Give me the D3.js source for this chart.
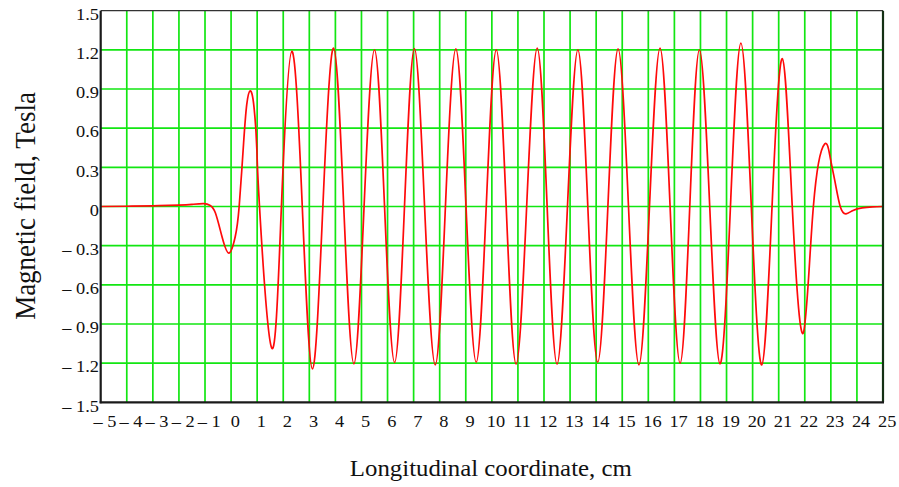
<!DOCTYPE html>
<html>
<head>
<meta charset="utf-8">
<script src="https://cdn.jsdelivr.net/npm/d3@7"></script>
<style>
  body { margin: 0; background: #ffffff; }
  text { font-family: "Liberation Serif", "Times New Roman", serif; fill: #111; }
</style>
</head>
<body>
<svg id="chart" width="899" height="487"></svg>
<script>
// Axis ticks
const xTicks = d3.range(-5, 26);
const yTicks = [-1.5, -1.2, -0.9, -0.6, -0.3, 0, 0.3, 0.6, 0.9, 1.2, 1.5];

// Undulator field profile: longitudinal position (cm) and field (T)
const positionCm = [
  -5, -4, -3, -2, -1.5, -1.05, -0.8, -0.6, -0.35, -0.08, 0.16, 0.31, 0.48, 0.60, 0.73,
  0.88, 0.99, 1.09, 1.56, 1.93, 2.33, 2.73, 3.12, 3.52, 3.93, 4.32, 4.71, 5.10, 5.50, 5.885, 6.27,
  6.65, 7.03, 7.42, 7.83, 8.22, 8.62, 9.01, 9.40, 9.785, 10.17, 10.55, 10.93, 11.335,
  11.74, 12.12, 12.50, 12.90, 13.30, 13.68, 14.06, 14.45, 14.84, 15.24, 15.64, 16.045,
  16.45, 16.835, 17.22, 17.59, 17.96, 18.355, 18.75, 19.15, 19.55, 19.95, 20.35, 20.745,
  21.14, 21.52, 21.94, 22.33, 22.76, 22.97, 23.15, 23.36, 23.58, 23.85, 24.2, 24.6, 25
];
const fieldT = [
  0, 0.002, 0.005, 0.01, 0.016, 0.022, 0.008, -0.05, -0.23, -0.357, -0.23, 0, 0.486, 0.78, 0.886,
  0.76, 0.43, 0, -1.085, 0, 1.188, 0, -1.244, 0, 1.214, 0, -1.205, 0, 1.20, 0, -1.195,
  0, 1.21, 0, -1.213, 0, 1.208, 0, -1.193, 0, 1.20, 0, -1.208, 0,
  1.214, 0, -1.208, 0, 1.20, 0, -1.193, 0, 1.208, 0, -1.213, 0,
  1.214, 0, -1.20, 0, 1.20, 0, -1.205, 0, 1.252, 0, -1.213, 0,
  1.132, 0, -0.97, 0, 0.478, 0.38, 0.2, 0, -0.056, -0.03, -0.01, -0.003, 0
];

const svg = d3.select("#chart");
const plotLeft = 100.7, plotRight = 883, plotTop = 10.7, plotBottom = 402.3;
const x = d3.scaleLinear().domain([-5, 25]).range([plotLeft, plotRight]);
const y = d3.scaleLinear().domain([-1.5, 1.5]).range([plotBottom, plotTop]);
const stretch = 1.08;
const serif = '"Liberation Serif", "Times New Roman", serif';

// Green grid
const grid = svg.append("g").attr("stroke", "#12e612").attr("stroke-width", 1.7);
grid.selectAll("line.v").data(xTicks.slice(1, -1)).join("line").attr("class", "v")
  .attr("x1", d => x(d)).attr("x2", d => x(d))
  .attr("y1", plotTop).attr("y2", plotBottom);
grid.selectAll("line.h").data(yTicks.slice(1, -1)).join("line").attr("class", "h")
  .attr("x1", plotLeft).attr("x2", plotRight)
  .attr("y1", d => y(d)).attr("y2", d => y(d));

// Field curve
const pts = positionCm.map((p, i) => [p, fieldT[i]]);
const line = d3.line().x(d => x(d[0])).y(d => y(d[1])).curve(d3.curveNatural);
svg.append("path").datum(pts)
  .attr("d", line)
  .attr("fill", "none")
  .attr("stroke", "#ff0a0a")
  .attr("stroke-width", 1.7);

// Frame
svg.append("line").attr("x1", plotLeft).attr("x2", plotRight).attr("y1", plotTop).attr("y2", plotTop)
  .attr("stroke", "#333").attr("stroke-width", 1.3);
svg.append("line").attr("x1", plotRight).attr("x2", plotRight).attr("y1", plotTop).attr("y2", plotBottom)
  .attr("stroke", "#143014").attr("stroke-width", 2.2);
svg.append("line").attr("x1", plotLeft).attr("x2", plotLeft).attr("y1", plotTop).attr("y2", plotBottom + 1)
  .attr("stroke", "#1a1a1a").attr("stroke-width", 2.2);
svg.append("line").attr("x1", plotLeft - 1).attr("x2", plotRight + 1).attr("y1", plotBottom).attr("y2", plotBottom)
  .attr("stroke", "#1a1a1a").attr("stroke-width", 2.2);

function fmt(v) {
  if (v === 0) return "0";
  const s = Number.isInteger(v) ? String(Math.abs(v)) : d3.format(".1f")(Math.abs(v));
  return v < 0 ? "\u2013 " + s : s;
}

// Tick labels via axes
const xAxis = d3.axisBottom(x).tickValues(xTicks).tickSize(0).tickPadding(0).tickFormat(fmt);
const gx = svg.append("g").attr("transform", `translate(0,${plotBottom})`).call(xAxis);
gx.select(".domain").remove();
gx.attr("font-family", null).attr("font-size", null);
gx.selectAll("text")
  .attr("y", null).attr("dy", null)
  .style("font-family", serif)
  .style("font-size", "17px")
  .attr("fill", "#111")
  .attr("transform", `translate(3.7,24.8) scale(${stretch},1)`);

const yAxis = d3.axisLeft(y).tickValues(yTicks).tickSize(0).tickPadding(0).tickFormat(fmt);
const gy = svg.append("g").attr("transform", `translate(${plotLeft},0)`).call(yAxis);
gy.select(".domain").remove();
gy.attr("font-family", null).attr("font-size", null);
gy.selectAll("text")
  .attr("x", null).attr("dy", null)
  .style("font-family", serif)
  .style("font-size", "17px")
  .attr("fill", "#111")
  .attr("text-anchor", "end")
  .attr("transform", `translate(-1.7,8.7) scale(${stretch},1)`);

// Axis titles
svg.append("text")
  .attr("text-anchor", "middle")
  .style("font-size", "23px")
  .attr("transform", `translate(490.8,476) scale(${stretch},1)`)
  .text("Longitudinal coordinate, cm");

svg.append("text")
  .attr("text-anchor", "middle")
  .style("font-size", "27px")
  .attr("transform", `translate(35,206) scale(${stretch},1) rotate(-90)`)
  .text("Magnetic field, Tesla");
</script>
</body>
</html>
